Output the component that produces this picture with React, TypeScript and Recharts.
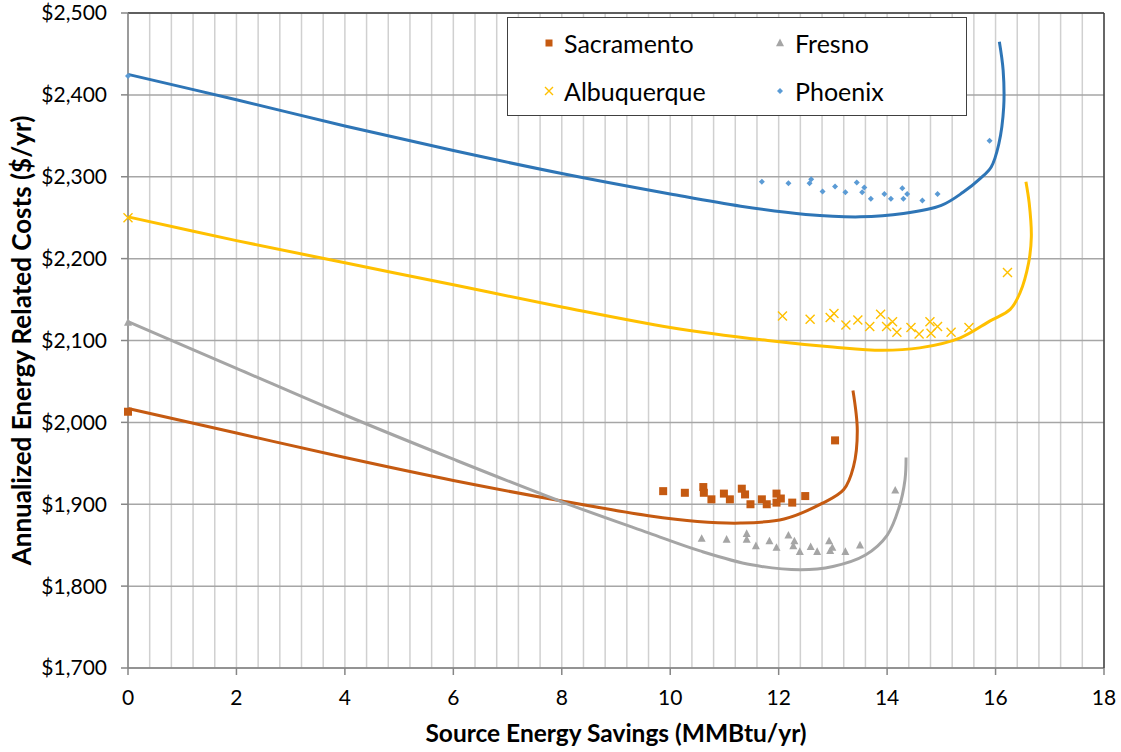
import React from "react";
import {
  ComposedChart,
  Line,
  Scatter,
  XAxis,
  YAxis,
  CartesianGrid,
  Legend,
  Label,
} from "recharts";

const FONT = "Lato, 'Noto Sans', sans-serif";

const xTicks = [0, 2, 4, 6, 8, 10, 12, 14, 16, 18];
const yTicks = [1700, 1800, 1900, 2000, 2100, 2200, 2300, 2400, 2500];
// minor vertical gridlines every 0.4
const minorXTicks = Array.from({ length: 46 }, (_, i) => +(i * 0.4).toFixed(1));

// scatter points [savings, cost]
const sacramentoPoints = [
  [0, 2013], [9.87, 1916], [10.27, 1914], [10.61, 1921], [10.62, 1914], [10.76, 1906],
  [10.99, 1913], [11.1, 1906], [11.32, 1919], [11.38, 1912], [11.48, 1900], [11.69, 1906],
  [11.78, 1900], [11.96, 1913], [12.04, 1907], [11.96, 1902], [12.25, 1902], [12.49, 1910],
  [13.04, 1978],
];
const fresnoPoints = [
  [0, 2122], [10.58, 1858], [11.04, 1857], [11.41, 1864], [11.41, 1857], [11.58, 1849],
  [11.83, 1855], [11.96, 1847], [12.18, 1862], [12.29, 1855], [12.27, 1849], [12.39, 1842],
  [12.59, 1848], [12.71, 1842], [12.93, 1855], [12.95, 1843], [12.99, 1847], [13.23, 1842],
  [13.5, 1850], [14.15, 1917],
];
const albuquerquePoints = [
  [0, 2250], [12.07, 2130], [12.58, 2126], [12.95, 2128], [13.02, 2133], [13.24, 2119],
  [13.46, 2125], [13.68, 2117], [13.88, 2132], [13.99, 2117], [14.1, 2123], [14.18, 2110],
  [14.44, 2116], [14.59, 2108], [14.79, 2123], [14.81, 2109], [14.93, 2117], [15.18, 2110],
  [15.51, 2116], [16.22, 2183],
];
const phoenixPoints = [
  [0, 2423], [11.69, 2294], [12.18, 2292], [12.6, 2297], [12.57, 2292], [12.81, 2282],
  [13.04, 2288], [13.23, 2281], [13.44, 2293], [13.58, 2287], [13.54, 2281], [13.7, 2273],
  [13.95, 2279], [14.07, 2273], [14.28, 2286], [14.37, 2279], [14.3, 2273], [14.65, 2271],
  [14.93, 2279], [15.89, 2344],
];

// smoothed frontier curves
const sacramentoCurve = [
  [0, 2017], [2, 1987], [4, 1957], [6, 1929], [8, 1904], [9.6, 1886], [10.5, 1879],
  [11.3, 1877], [12.1, 1882], [12.8, 1901], [13.2, 1918], [13.38, 1946], [13.45, 1990],
  [13.37, 2039],
];
const fresnoCurve = [
  [0, 2123], [2, 2066], [4, 2009], [6, 1955], [8, 1903], [9.6, 1865], [10.55, 1843],
  [11.5, 1826], [12.4, 1820], [13, 1824], [13.6, 1838], [14, 1862], [14.22, 1896],
  [14.33, 1930], [14.35, 1957],
];
const albuquerqueCurve = [
  [0, 2251], [2, 2222], [4, 2195], [6, 2168], [8, 2141], [10, 2116], [11.8, 2100],
  [13, 2092], [13.9, 2088], [14.6, 2091], [15.34, 2103], [15.9, 2124], [16.27, 2138],
  [16.45, 2158], [16.61, 2195], [16.66, 2227], [16.62, 2268], [16.56, 2294],
];
const phoenixCurve = [
  [0, 2425], [2, 2394], [4, 2362], [6, 2332], [8, 2304], [10, 2279], [11.3, 2264],
  [12.5, 2254], [13.5, 2251], [14.3, 2255], [15, 2265], [15.4, 2281], [15.72, 2298],
  [15.92, 2312], [16.06, 2340], [16.15, 2385], [16.14, 2430], [16.07, 2465],
];

const toXY = (pts: number[][]) => pts.map(([x, y]) => ({ x, y }));

// centripetal Catmull-Rom smoothing (spreadsheet-like "smoothed line")
const smoothCurve = (context: any) => {
  let pts: number[][] = [];
  const d = (a: number[], b: number[]) => Math.sqrt(Math.hypot(b[0] - a[0], b[1] - a[1]));
  return {
    areaStart() {},
    areaEnd() {},
    lineStart() {
      pts = [];
    },
    point(x: number, y: number) {
      pts.push([+x, +y]);
    },
    lineEnd() {
      if (!pts.length) return;
      context.moveTo(pts[0][0], pts[0][1]);
      for (let i = 0; i < pts.length - 1; i++) {
        const p0 = pts[i - 1];
        const p1 = pts[i];
        const p2 = pts[i + 1];
        const p3 = pts[i + 2];
        const l12a = d(p1, p2);
        const l12_2a = l12a * l12a;
        let c1 = p1;
        let c2 = p2;
        if (p0) {
          const l01a = d(p0, p1);
          if (l01a > 1e-6) {
            const l01_2a = l01a * l01a;
            const a = 2 * l01_2a + 3 * l01a * l12a + l12_2a;
            const n = 3 * l01a * (l01a + l12a);
            c1 = [0, 1].map((k) => (p1[k] * a - p0[k] * l12_2a + p2[k] * l01_2a) / n);
          }
        }
        if (p3) {
          const l23a = d(p2, p3);
          if (l23a > 1e-6) {
            const l23_2a = l23a * l23a;
            const b = 2 * l23_2a + 3 * l23a * l12a + l12_2a;
            const m = 3 * l23a * (l23a + l12a);
            c2 = [0, 1].map((k) => (p2[k] * b + p1[k] * l23_2a - p3[k] * l12_2a) / m);
          }
        }
        context.bezierCurveTo(c1[0], c1[1], c2[0], c2[1], p2[0], p2[1]);
      }
    },
  };
};

const ORANGE = "#C55A11";
const GRAY = "#A5A5A5";
const YELLOW = "#FFC000";
const BLUE_PT = "#5B9BD5";
const BLUE_LINE = "#2E75B6";

const square = (s: number) => (p: any) => (
  <rect x={p.cx - s / 2} y={p.cy - s / 2} width={s} height={s} fill={ORANGE} />
);
const triangle = (s: number) => (p: any) => (
  <path
    d={`M${p.cx},${p.cy - s * 0.55}L${p.cx + s / 2},${p.cy + s * 0.4}L${p.cx - s / 2},${p.cy + s * 0.4}Z`}
    fill={GRAY}
  />
);
const cross = (s: number) => (p: any) => (
  <path
    d={`M${p.cx - s / 2},${p.cy - s / 2}L${p.cx + s / 2},${p.cy + s / 2}M${p.cx - s / 2},${p.cy + s / 2}L${p.cx + s / 2},${p.cy - s / 2}`}
    stroke={YELLOW}
    strokeWidth={1.4}
    fill="none"
  />
);
const diamond = (s: number) => (p: any) => (
  <path
    d={`M${p.cx},${p.cy - s / 2}L${p.cx + s / 2},${p.cy}L${p.cx},${p.cy + s / 2}L${p.cx - s / 2},${p.cy}Z`}
    fill={BLUE_PT}
  />
);

const legendItems = [
  { name: "Sacramento", shape: square(7), col: 0, row: 0 },
  { name: "Fresno", shape: triangle(8), col: 1, row: 0 },
  { name: "Albuquerque", shape: cross(8), col: 0, row: 1 },
  { name: "Phoenix", shape: diamond(6), col: 1, row: 1 },
];

const renderLegend = () => (
  <div
    style={{
      position: "relative",
      width: 460,
      height: 99,
      boxSizing: "border-box",
      border: "1.5px solid #404040",
      background: "#fff",
      fontFamily: FONT,
      fontSize: 25,
      color: "#000",
    }}
  >
    {legendItems.map((it) => (
      <div
        key={it.name}
        style={{
          position: "absolute",
          left: it.col === 0 ? 32 : 263,
          top: it.row === 0 ? 8 : 56,
          height: 34,
          display: "flex",
          alignItems: "center",
        }}
      >
        <svg width={18} height={18} style={{ marginRight: 6 }}>
          {it.shape({ cx: 9, cy: 9 })}
        </svg>
        <span>{it.name}</span>
      </div>
    ))}
  </div>
);

export default function App() {
  return (
    <div style={{ position: "absolute", left: 0, top: 0, width: 1121, height: 752, background: "#fff" }}>
      <ComposedChart width={1121} height={752} margin={{ top: 12, right: 16, bottom: 0, left: 0 }}>
        <CartesianGrid xAxisId="minor" horizontal={false} stroke="#D0D0D0" strokeWidth={1.5} />
        <CartesianGrid vertical={false} stroke="#A6A6A6" strokeWidth={1.5} />
        <XAxis
          xAxisId="minor"
          type="number"
          dataKey="x"
          domain={[0, 18]}
          ticks={minorXTicks}
          interval={0}
          allowDataOverflow
          hide
        />
        <XAxis
          type="number"
          dataKey="x"
          domain={[0, 18]}
          ticks={xTicks}
          interval={0}
          height={84}
          tickSize={7}
          tickMargin={15}
          stroke="#868686"
          strokeWidth={1.5}
          tick={{ fill: "#000", fontSize: 21, fontFamily: FONT }}
        >
          <Label
            content={(p: any) => {
              const vb = p.viewBox;
              return (
                <text
                  x={vb.x + vb.width / 2}
                  y={vb.y + 74}
                  textAnchor="middle"
                  fontFamily={FONT}
                  fontWeight="bold"
                  fontSize={24.5}
                  fill="#000"
                >
                  Source Energy Savings (MMBtu/yr)
                </text>
              );
            }}
          />
        </XAxis>
        <XAxis
          xAxisId="top"
          orientation="top"
          type="number"
          domain={[0, 18]}
          allowDataOverflow
          height={1}
          tick={false}
          tickLine={false}
          axisLine={{ stroke: "#404040", strokeWidth: 1.5 }}
        />
        <YAxis
          type="number"
          dataKey="y"
          domain={[1700, 2500]}
          ticks={yTicks}
          interval={0}
          width={128}
          tickSize={7}
          tickMargin={14}
          stroke="#868686"
          strokeWidth={1.5}
          tick={{ fill: "#000", fontSize: 21, fontFamily: FONT }}
          tickFormatter={(v: number) => `$${v.toLocaleString("en-US")}`}
        >
          <Label
            content={(p: any) => {
              const vb = p.viewBox;
              const x = vb.x + 31;
              const y = vb.y + vb.height / 2;
              return (
                <text
                  x={x}
                  y={y}
                  transform={`rotate(-90, ${x}, ${y})`}
                  textAnchor="middle"
                  fontFamily={FONT}
                  fontWeight="bold"
                  fontSize={26}
                  fill="#000"
                >
                  Annualized Energy Related Costs ($/yr)
                </text>
              );
            }}
          />
        </YAxis>
        <YAxis
          yAxisId="right"
          orientation="right"
          type="number"
          domain={[1700, 2500]}
          allowDataOverflow
          width={1}
          tick={false}
          tickLine={false}
          axisLine={{ stroke: "#404040", strokeWidth: 1.5 }}
        />

        <Line data={toXY(sacramentoCurve)} dataKey="y" type={smoothCurve as any} stroke={ORANGE} strokeWidth={3} dot={false} activeDot={false} legendType="none" isAnimationActive={false} />
        <Line data={toXY(fresnoCurve)} dataKey="y" type={smoothCurve as any} stroke={GRAY} strokeWidth={3} dot={false} activeDot={false} legendType="none" isAnimationActive={false} />
        <Line data={toXY(albuquerqueCurve)} dataKey="y" type={smoothCurve as any} stroke={YELLOW} strokeWidth={3} dot={false} activeDot={false} legendType="none" isAnimationActive={false} />
        <Line data={toXY(phoenixCurve)} dataKey="y" type={smoothCurve as any} stroke={BLUE_LINE} strokeWidth={3} dot={false} activeDot={false} legendType="none" isAnimationActive={false} />

        <Scatter name="Sacramento" data={toXY(sacramentoPoints)} fill={ORANGE} shape={square(8)} isAnimationActive={false} />
        <Scatter name="Fresno" data={toXY(fresnoPoints)} fill={GRAY} shape={triangle(8)} isAnimationActive={false} />
        <Scatter name="Albuquerque" data={toXY(albuquerquePoints)} fill={YELLOW} shape={cross(9)} isAnimationActive={false} />
        <Scatter name="Phoenix" data={toXY(phoenixPoints)} fill={BLUE_PT} shape={diamond(6)} isAnimationActive={false} />

        <Legend
          layout="vertical"
          align="center"
          verticalAlign="middle"
          content={renderLegend}
          wrapperStyle={{ left: 507, top: 17, width: 460, height: 99 }}
        />
      </ComposedChart>
    </div>
  );
}
